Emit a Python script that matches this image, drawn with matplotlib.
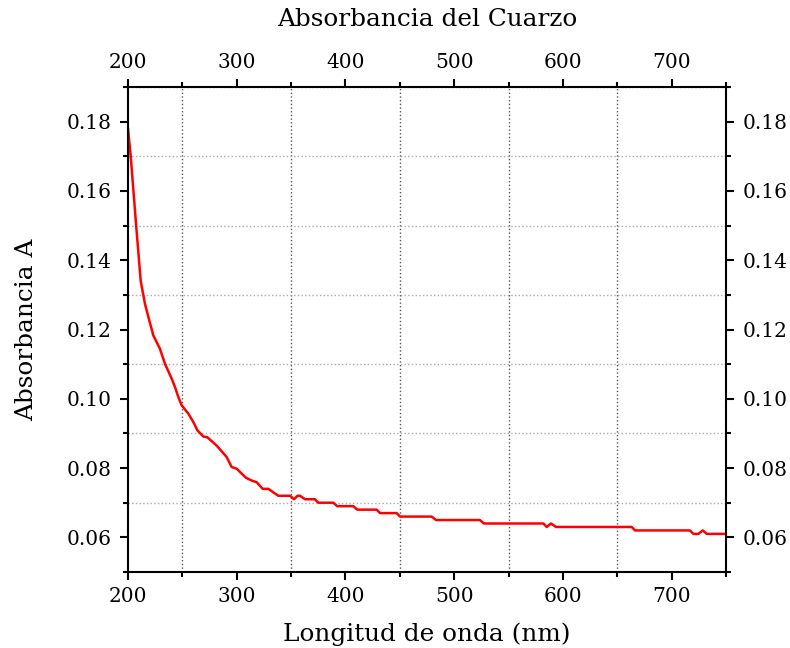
import matplotlib
matplotlib.use("Agg")
import matplotlib.pyplot as plt
from matplotlib.ticker import MultipleLocator, FormatStrFormatter

# Absorbance spectrum of quartz
wavelength = [200, 202.5, 207.5, 211.7, 215.6, 219.6, 223.3, 229.4, 234, 240.2,
              243.2, 246.3, 249.4, 255.5, 260.1, 263.8, 269.3, 272.9, 281.5, 290.7,
              295.3, 300, 308.5, 313.8, 318.4, 323.9, 329.1, 333.6, 338.3, 349,
              352.7, 356, 358.2, 362.8, 372, 375, 388.8, 392.5, 407.2, 410.9,
              428.7, 431.8, 447.1, 450.2, 479.3, 483.3, 523.7, 527.4, 582, 585.1,
              589, 593.7, 663.3, 666.3, 716.9, 720, 724.6, 728.6, 732.3, 750]
absorbance = [0.178, 0.170, 0.150, 0.134, 0.1274, 0.1226, 0.1183, 0.1144, 0.1101, 0.1058,
              0.1034, 0.1005, 0.0981, 0.0957, 0.0933, 0.0909, 0.0891, 0.0889, 0.0865, 0.0832,
              0.0803, 0.0798, 0.0772, 0.0764, 0.0759, 0.074, 0.074, 0.073, 0.072, 0.072,
              0.071, 0.072, 0.072, 0.071, 0.071, 0.070, 0.070, 0.069, 0.069, 0.068,
              0.068, 0.067, 0.067, 0.066, 0.066, 0.065, 0.065, 0.064, 0.064, 0.063,
              0.064, 0.063, 0.063, 0.062, 0.062, 0.061, 0.061, 0.062, 0.061, 0.061]

plt.rcParams['font.family'] = ['DejaVu Serif']

fig = plt.figure(figsize=(7.9, 6.48), dpi=100)
ax = fig.add_axes([128 / 790, 1 - 572 / 648, 598 / 790, 485 / 648])

ax.plot(wavelength, absorbance, color='red', linewidth=1.8)

ax.set_xlim(200, 750)
ax.set_ylim(0.05, 0.19)
ax.xaxis.set_major_locator(MultipleLocator(100))
ax.xaxis.set_minor_locator(MultipleLocator(50))
ax.yaxis.set_major_locator(MultipleLocator(0.02))
ax.yaxis.set_minor_locator(MultipleLocator(0.01))
ax.yaxis.set_major_formatter(FormatStrFormatter('%.2f'))

# dotted grid only on the minor ticks
ax.grid(False)
ax.grid(True, which='minor', axis='x', linestyle=':', color='#555555', linewidth=1)
ax.grid(True, which='minor', axis='y', linestyle=':', color='#aaaaaa', linewidth=1)

for s in ax.spines.values():
    s.set_linewidth(1.5)

ax.tick_params(which='both', direction='out', width=1.5,
               top=True, right=True, labeltop=True, labelright=True,
               labelsize=14.5, colors='black')
ax.tick_params(which='major', length=6)
ax.tick_params(which='minor', length=3.5)
ax.tick_params(axis='x', pad=5)
ax.tick_params(axis='y', pad=6)

ax.set_xlabel("Longitud de onda (nm)", fontsize=17.8, labelpad=12)
ax.set_ylabel("Absorbancia A", fontsize=17.8, labelpad=20)
ax.set_title("Absorbancia del Cuarzo", fontsize=17.8, pad=44)

fig.savefig("out.png", dpi=100)
